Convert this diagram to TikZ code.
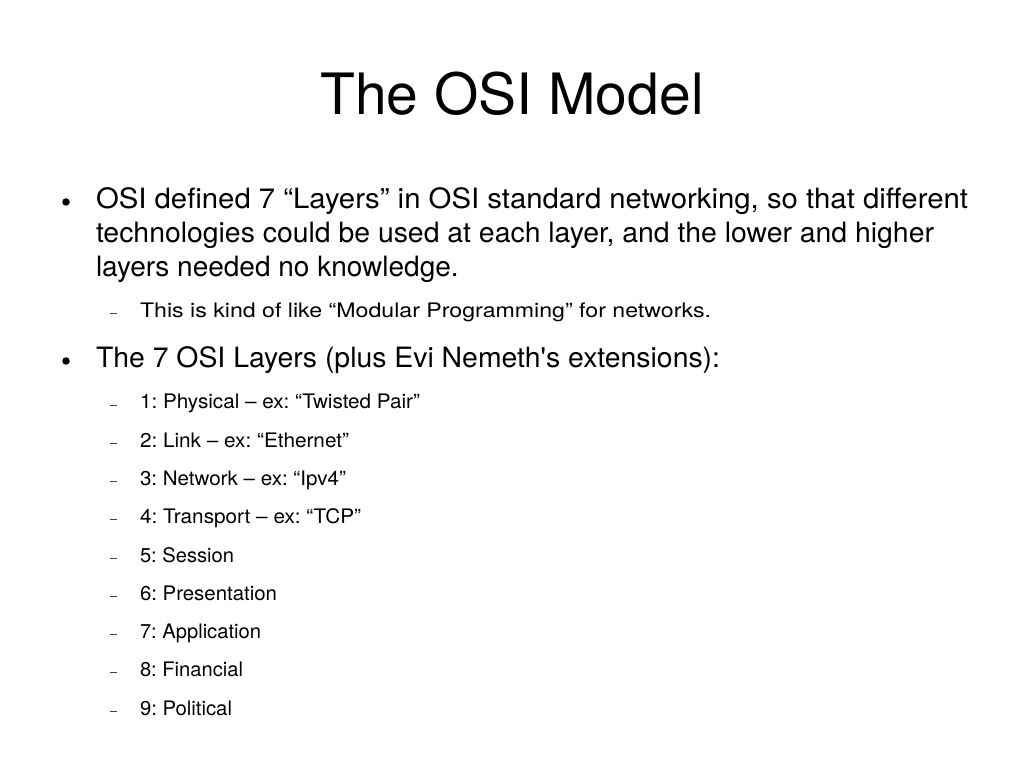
\documentclass[tikz,border=0pt]{standalone}
\usepackage{fontspec}
\usepackage{graphicx}
\setmainfont{TeX Gyre Heros}[Ligatures=TeXOff]
\frenchspacing
\newcommand\xfit[2]{\resizebox{#1pt}{\height}{#2}}
\begin{document}
\begin{tikzpicture}[x=1pt,y=-1pt,
  every node/.style={inner sep=0pt,outer sep=0pt,anchor=base west},
  ttl/.style={font=\fontsize{57}{68}\selectfont,anchor=base},
  lvlone/.style={font=\fontsize{28}{34}\selectfont},
  lvltwo/.style={font=\fontsize{20}{24}\selectfont},
  dot/.style={circle,fill=black,minimum size=7.5pt,anchor=center},
  dashmark/.style={draw=black!75,line width=1pt}]
\useasboundingbox (0,0) rectangle (1023,767);
\fill[white] (0,0) rectangle (1023,767);
\node[ttl] (title) at (512,115) {The OSI Model};
% bullet 1
\node[dot] (b1) at (66,202) {};
\node[lvlone] (p1a) at (96,209) {\xfit{872}{OSI defined 7 “Layers” in OSI standard networking, so that different}};
\node[lvlone] (p1b) at (96,243) {\xfit{838}{technologies could be used at each layer, and the lower and higher}};
\node[lvlone] (p1c) at (96,277) {layers needed no knowledge.};
\draw[dashmark] (110,314) -- (117,314);
\node[lvltwo] (s0) at (140,318) {\xfit{571}{This is kind of like “Modular Programming” for networks.}};
% bullet 2
\node[dot] (b2) at (66,361) {};
\node[lvlone] (p2) at (96,368) {\xfit{624}{The 7 OSI Layers (plus Evi Nemeth's extensions):}};
\foreach \i/\t/\w [count=\k from 0] in {
  1/{1: Physical – ex: “Twisted Pair”}/280,
  2/{2: Link – ex: “Ethernet”}/209,
  3/{3: Network – ex: “Ipv4”}/206,
  4/{4: Transport – ex: “TCP”}/221,
  5/{5: Session}/94,
  6/{6: Presentation}/137,
  7/{7: Application}/121,
  8/{8: Financial}/103,
  9/{9: Political}/92}{
  \pgfmathsetmacro\yy{409+38.25*\k}
  \draw[dashmark] (110,\yy-4) -- (117,\yy-4);
  \node[lvltwo] (s\i) at (140,\yy) {\xfit{\w}{\t}};
}
\end{tikzpicture}
\end{document}
